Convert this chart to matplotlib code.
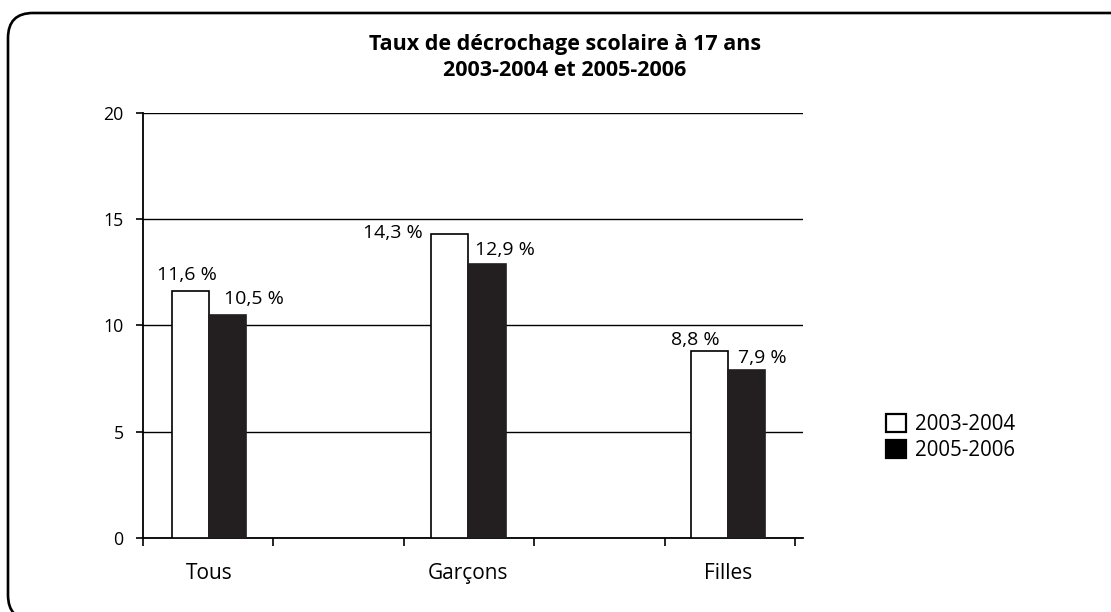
import numpy as np
import matplotlib
matplotlib.use("Agg")
import matplotlib.pyplot as plt
from matplotlib.patches import FancyBboxPatch, Patch
from matplotlib.transforms import IdentityTransform

plt.rcParams['font.family'] = ['Open Sans', 'DejaVu Sans']

# données
categories = ['Tous', 'Garçons', 'Filles']
taux_2003_2004 = [11.6, 14.3, 8.8]
taux_2005_2006 = [10.5, 12.9, 7.9]
series_labels = ['2003-2004', '2005-2006']
titre = 'Taux de décrochage scolaire à 17 ans\n2003-2004 et 2005-2006'

fig = plt.figure(figsize=(11.11, 6.12), dpi=100)

# cadre arrondi (coupé à droite et en bas)
cadre = FancyBboxPatch((8, -8), 1250, 607, boxstyle="round,pad=0,rounding_size=25",
                       transform=IdentityTransform(), fill=False, edgecolor='black',
                       linewidth=1.9, clip_on=False)
fig.patches.append(cadre)

ax = fig.add_axes([0.1287, 0.1209, 0.7228 - 0.1287, 0.8154 - 0.1209])

x = np.arange(len(categories))
w = 0.143
b1 = ax.bar(x - w / 2, taux_2003_2004, w, color='white', edgecolor='black',
            linewidth=1.2, zorder=3, label=series_labels[0])
b2 = ax.bar(x + w / 2, taux_2005_2006, w, color='#231f20', edgecolor='#231f20',
            linewidth=1.2, zorder=3, label=series_labels[1])

# étiquettes de valeurs (décalages en pixels par rapport au haut des barres)
decal_1 = [(-3, 16), (-57, 1), (-14, 11)]
decal_2 = [(26, 16), (18, 14), (16, 12)]
for bars, vals, decal in [(b1, taux_2003_2004, decal_1), (b2, taux_2005_2006, decal_2)]:
    for rect, v, (dx, dy) in zip(bars, vals, decal):
        ax.annotate(f"{v:.1f} %".replace('.', ','),
                    (rect.get_x() + rect.get_width() / 2, rect.get_height()),
                    xytext=(dx, dy), textcoords='offset pixels',
                    ha='center', va='center', fontsize=14, zorder=4)

xmin, xmax = -0.254, 2.289
ax.set_xlim(xmin, xmax)
ax.set_ylim(0, 20)
ax.set_yticks([0, 5, 10, 15, 20])
ax.yaxis.grid(True, color='black', linewidth=1.0)
ax.set_axisbelow(True)

ax.set_xticks(x)
ax.set_xticklabels(categories, fontsize=15)
ax.tick_params(axis='x', which='major', length=0, pad=18)
ax.set_xticks(np.linspace(xmin, xmax - 0.03, 6), minor=True)
ax.tick_params(axis='x', which='minor', length=6, width=1.2, direction='out')
ax.tick_params(axis='y', length=5, width=1.2, labelsize=12.8, pad=9)

for s in ['top', 'right']:
    ax.spines[s].set_visible(False)
for s in ['left', 'bottom']:
    ax.spines[s].set_linewidth(1.3)

fig.text(0.5086, 0.906, titre, fontsize=15.5, fontweight='bold', ha='center',
         va='center', linespacing=1.3)

handles = [Patch(facecolor='white', edgecolor='black', linewidth=1.6),
           Patch(facecolor='black', edgecolor='black', linewidth=1.6)]
fig.legend(handles, series_labels, loc='center left', bbox_to_anchor=(0.781, 0.285),
           frameon=False, fontsize=14.8, handlelength=0.95, handleheight=0.95,
           handletextpad=0.45, labelspacing=0.25)

fig.savefig('out.png', dpi=100)
